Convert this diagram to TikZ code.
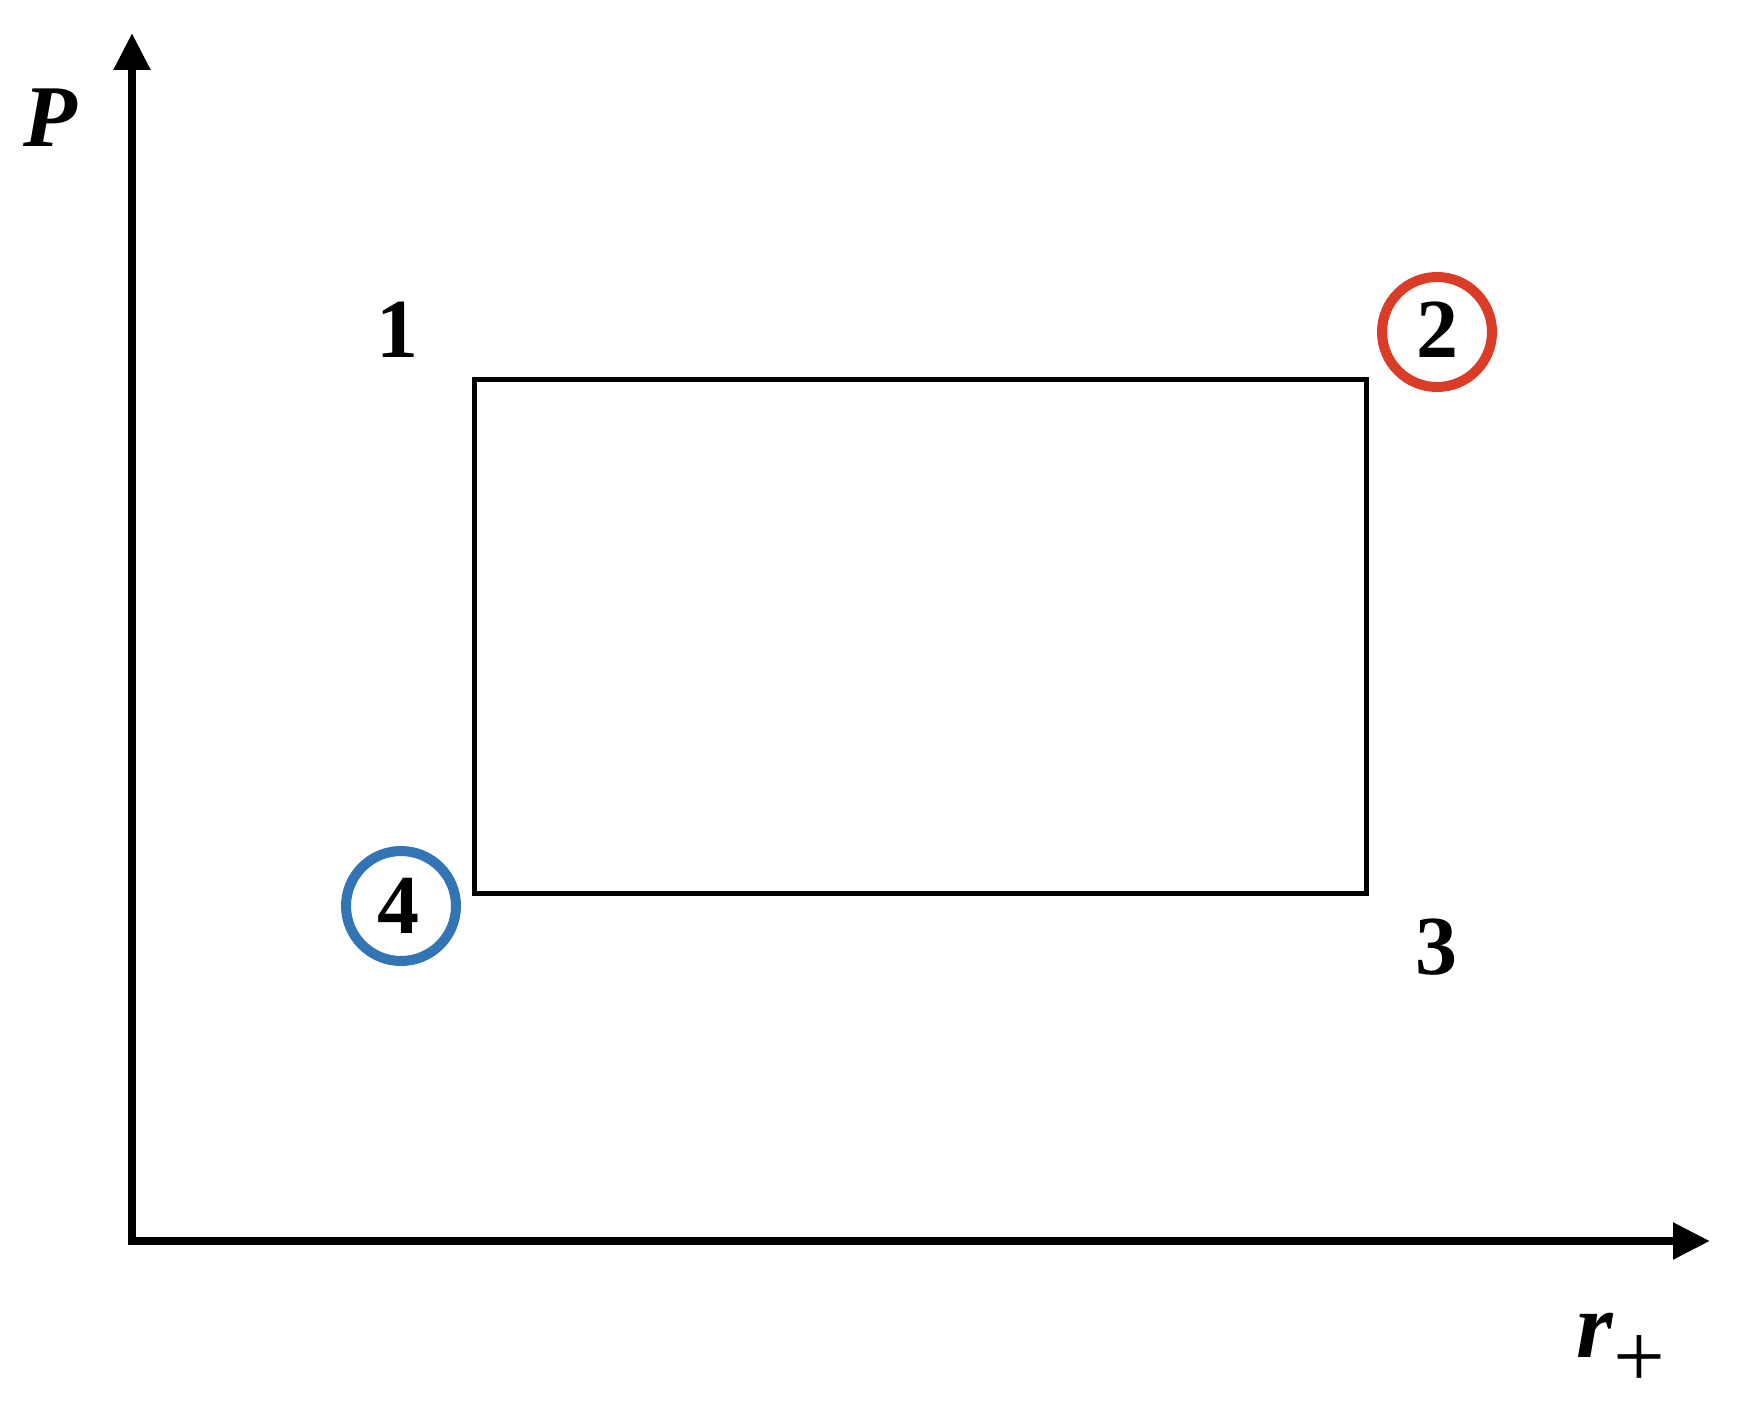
\documentclass[tikz,border=0pt]{standalone}
\usepackage{fontspec}
\setmainfont{Liberation Serif}
\usetikzlibrary{arrows.meta}
\definecolor{ringred}{RGB}{218,60,40}
\definecolor{ringblue}{RGB}{51,116,181}
\begin{document}
\begin{tikzpicture}[x=0.5pt,y=-0.5pt,
  axis/.style={line width=4.2pt,{Triangle[length=18.5pt,width=17.5pt]}-{Triangle[length=18.5pt,width=17.5pt]}},
  box/.style={line width=2.5pt},
  ring/.style={circle,draw,line width=5pt,minimum size=55pt,inner sep=0pt},
  num/.style={anchor=base,inner sep=0pt,font=\fontsize{42}{48}\selectfont\bfseries},
  lab/.style={anchor=base,inner sep=0pt}]
\useasboundingbox (0,0) rectangle (1744,1412);
\coordinate (O) at (132,1241);
\coordinate (Ytip) at (132,33);
\coordinate (Xtip) at (1710,1241);
\draw[axis] (Ytip) -- (O) -- (Xtip);
\node[lab,font=\fontsize{44}{50}\selectfont\bfseries\itshape] (P) at (50,147) {P};
\node[lab] (r) at (1621,1357) {\fontsize{47}{54}\selectfont\bfseries\itshape r\raisebox{-15pt}{\fontsize{46}{48}\selectfont\upshape\mdseries +}};
\coordinate (c1) at (474,379);
\coordinate (c3) at (1366,893);
\draw[box] (c1) rectangle (c3);
\node[num] (n1) at (397,357) {1};
\node[num] (n2) at (1437,357) {2};
\node[num] (n3) at (1436,974) {3};
\node[num] (n4) at (398,933) {4};
\node[ring,draw=ringred] (ring2) at (1437,332) {};
\node[ring,draw=ringblue] (ring4) at (401,906) {};
\end{tikzpicture}
\end{document}
